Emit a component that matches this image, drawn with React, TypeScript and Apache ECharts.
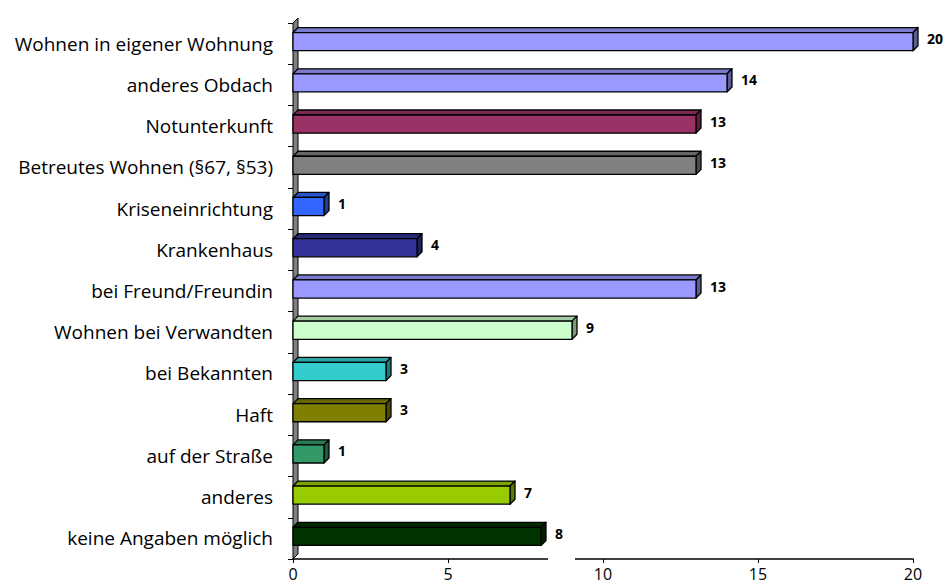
import React, { useEffect, useRef } from "react";
import * as echarts from "echarts";

const categories = [
  "Wohnen in eigener Wohnung",
  "anderes Obdach",
  "Notunterkunft",
  "Betreutes Wohnen (§67, §53)",
  "Kriseneinrichtung",
  "Krankenhaus",
  "bei Freund/Freundin",
  "Wohnen bei Verwandten",
  "bei Bekannten",
  "Haft",
  "auf der Straße",
  "anderes",
  "keine Angaben möglich",
];
const values = [20, 14, 13, 13, 1, 4, 13, 9, 3, 3, 1, 7, 8];
const barColors = [
  "#9999FF", "#9999FF", "#993366", "#808080", "#3366FF", "#333399", "#9999FF",
  "#CCFFCC", "#33CCCC", "#808000", "#339966", "#99CC00", "#003300",
];
const xTicks = { min: 0, max: 20, interval: 5 };

const FONT = "'Open Sans', 'Noto Sans', sans-serif";

function shade(hex: string, f: number): string {
  const n = parseInt(hex.slice(1), 16);
  const r = Math.round(((n >> 16) & 255) * f);
  const g = Math.round(((n >> 8) & 255) * f);
  const b = Math.round((n & 255) * f);
  return `rgb(${r},${g},${b})`;
}

export default function App() {
  const ref = useRef<HTMLDivElement>(null);
  useEffect(() => {
    if (!ref.current) return;
    const chart = echarts.init(ref.current, null, { renderer: "svg" });
    const D = 5;
    chart.setOption({
      animation: false,
      backgroundColor: "#ffffff",
      grid: { left: 293, right: 34, top: 23, bottom: 28, containLabel: false },
      xAxis: {
        type: "value",
        min: xTicks.min,
        max: xTicks.max,
        interval: xTicks.interval,
        axisLine: { show: true, lineStyle: { color: "#000", width: 1.5 } },
        axisTick: { show: true, length: 4, lineStyle: { color: "#000" } },
        splitLine: { show: false },
        axisLabel: { color: "#000", fontSize: 16, fontFamily: FONT, margin: 7 },
      },
      yAxis: {
        type: "category",
        data: categories,
        inverse: true,
        axisLine: { show: false },
        axisTick: { show: true, length: 5, lineStyle: { color: "#000" } },
        axisLabel: { color: "#000", fontSize: 19, fontFamily: FONT, margin: 20 },
      },
      series: [
        {
          type: "custom",
          silent: true,
          data: [[0, 0]],
          encode: { x: 0, y: 1 },
          renderItem: (params: any, api: any) => {
            const cs = params.coordSys;
            const x = cs.x;
            const y = cs.y;
            const h = cs.height;
            return {
              type: "polygon",
              shape: {
                points: [
                  [x, y],
                  [x + D, y - D],
                  [x + D, y + h - D],
                  [x, y + h],
                ],
              },
              style: { fill: "#808080", stroke: "#000", lineWidth: 1 },
            };
          },
          z: 1,
        },
        {
          type: "custom",
          silent: true,
          data: values.map((v, i) => [v, i]),
          encode: { x: 0, y: 1 },
          renderItem: (params: any, api: any) => {
            const v = api.value(0);
            const cat = api.value(1);
            const start = api.coord([0, cat]);
            const end = api.coord([v, cat]);
            const band = api.size([0, 1])[1];
            const h = band * 0.44;
            const cy = start[1] - 2;
            const x0 = start[0];
            const x1 = end[0];
            const y0 = cy - h / 2;
            const y1 = cy + h / 2;
            const c = barColors[params.dataIndex];
            const line = { stroke: "#000", lineWidth: 1.3, lineJoin: "round" };
            return {
              type: "group",
              children: [
                {
                  type: "polygon",
                  shape: { points: [[x0, y0], [x0 + D, y0 - D], [x1 + D, y0 - D], [x1, y0]] },
                  style: { fill: shade(c, 0.8), ...line },
                },
                {
                  type: "polygon",
                  shape: { points: [[x1, y0], [x1 + D, y0 - D], [x1 + D, y1 - D], [x1, y1]] },
                  style: { fill: shade(c, 0.6), ...line },
                },
                {
                  type: "rect",
                  shape: { x: x0, y: y0, width: x1 - x0, height: h },
                  style: { fill: c, ...line },
                },
                {
                  type: "text",
                  style: {
                    text: String(v),
                    x: x1 + 14,
                    y: cy - 3,
                    verticalAlign: "middle",
                    align: "left",
                    fill: "#000",
                    font: `bold 14px ${FONT}`,
                  },
                },
              ],
            };
          },
          z: 2,
        },
      ],
      graphic: [
        {
          type: "rect",
          left: 548,
          top: 557,
          shape: { width: 27, height: 5 },
          style: { fill: "#fff" },
          z: 100,
        },
      ],
    });
    return () => chart.dispose();
  }, []);
  return <div ref={ref} style={{ width: 947, height: 587, position: "absolute", left: 0, top: 0 }} />;
}
